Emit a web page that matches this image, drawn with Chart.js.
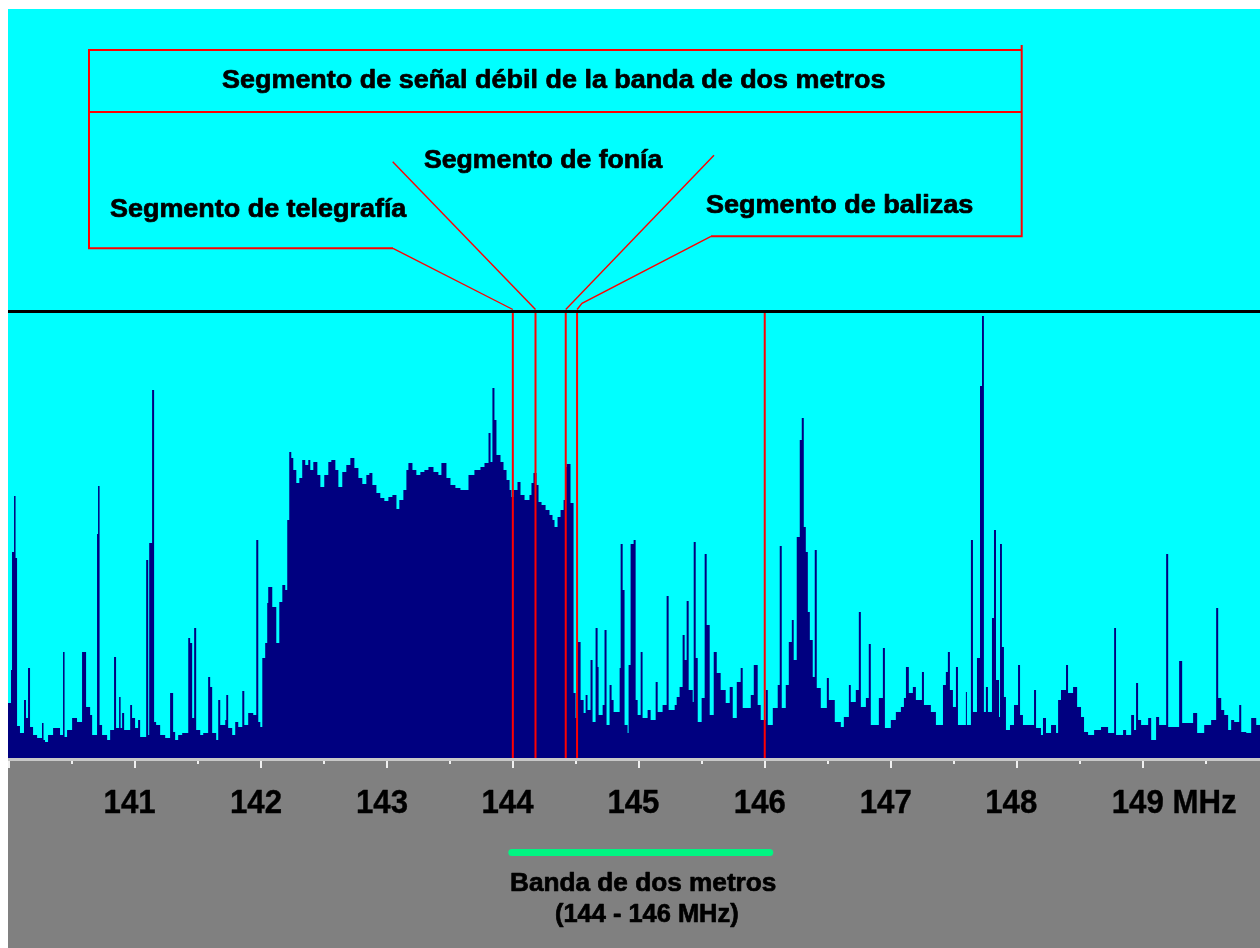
<!DOCTYPE html>
<html lang="es">
<head>
<meta charset="utf-8">
<title>Segmento de señal débil de la banda de dos metros</title>
<script src="https://cdn.jsdelivr.net/npm/chart.js@4.4.1/dist/chart.umd.min.js"></script>
<style>
  html, body { margin: 0; padding: 0; background: #ffffff; }
  #wrap { position: relative; width: 1260px; height: 948px; }
</style>
</head>
<body>
<div id="wrap"><canvas id="spectrum" width="1260" height="948"></canvas></div>
<script>
// Spectrum trace: each level holds from its frequency up to the next one (MHz, dB above the bottom of the screen)
const FREQ_MHZ = [
  139.992, 140.016, 140.024, 140.040, 140.052, 140.064, 140.087, 140.119, 140.135, 140.151,
  140.167, 140.191, 140.223, 140.262, 140.274, 140.286, 140.310, 140.350, 140.405, 140.429,
  140.441, 140.461, 140.501, 140.540, 140.580, 140.612, 140.644, 140.660, 140.699, 140.707,
  140.719, 140.739, 140.779, 140.803, 140.834, 140.850, 140.874, 140.886, 140.898, 140.914,
  140.962, 140.977, 141.001, 141.025, 141.041, 141.089, 141.105, 141.113, 141.136, 141.152,
  141.168, 141.200, 141.240, 141.279, 141.303, 141.319, 141.343, 141.375, 141.423, 141.438,
  141.454, 141.470, 141.486, 141.518, 141.542, 141.581, 141.597, 141.613, 141.645, 141.661,
  141.677, 141.717, 141.725, 141.740, 141.772, 141.796, 141.820, 141.852, 141.868, 141.899,
  141.939, 141.963, 141.979, 141.995, 142.011, 142.034, 142.050, 142.058, 142.090, 142.122,
  142.146, 142.170, 142.193, 142.209, 142.225, 142.241, 142.257, 142.281, 142.305, 142.328,
  142.352, 142.376, 142.392, 142.416, 142.448, 142.472, 142.503, 142.535, 142.559, 142.591,
  142.615, 142.646, 142.678, 142.710, 142.742, 142.774, 142.805, 142.837, 142.861, 142.885,
  142.917, 142.948, 142.980, 143.012, 143.044, 143.076, 143.099, 143.131, 143.155, 143.171,
  143.203, 143.234, 143.266, 143.298, 143.330, 143.370, 143.409, 143.433, 143.473, 143.505,
  143.544, 143.584, 143.624, 143.648, 143.695, 143.743, 143.775, 143.807, 143.823, 143.838,
  143.854, 143.870, 143.902, 143.926, 143.950, 143.974, 143.989, 144.005, 144.037, 144.061,
  144.093, 144.132, 144.148, 144.164, 144.188, 144.204, 144.228, 144.260, 144.291, 144.315,
  144.331, 144.355, 144.379, 144.403, 144.419, 144.427, 144.458, 144.482, 144.498, 144.514,
  144.538, 144.562, 144.578, 144.593, 144.617, 144.633, 144.657, 144.673, 144.681, 144.713,
  144.728, 144.744, 144.768, 144.784, 144.800, 144.848, 144.856, 144.872, 144.887, 144.911,
  144.919, 144.935, 144.959, 144.975, 144.991, 145.015, 145.030, 145.070, 145.094, 145.134,
  145.150, 145.189, 145.221, 145.237, 145.285, 145.301, 145.324, 145.348, 145.364, 145.380,
  145.396, 145.428, 145.436, 145.452, 145.468, 145.499, 145.523, 145.539, 145.563, 145.595,
  145.619, 145.650, 145.690, 145.722, 145.746, 145.778, 145.809, 145.825, 145.889, 145.913,
  145.944, 145.968, 146.008, 146.024, 146.064, 146.103, 146.119, 146.135, 146.167, 146.191,
  146.215, 146.230, 146.254, 146.278, 146.294, 146.310, 146.326, 146.342, 146.358, 146.381,
  146.397, 146.413, 146.445, 146.493, 146.509, 146.556, 146.604, 146.628, 146.668, 146.683,
  146.723, 146.747, 146.763, 146.803, 146.826, 146.842, 146.906, 146.938, 146.954, 147.001,
  147.041, 147.081, 147.105, 147.121, 147.144, 147.176, 147.200, 147.248, 147.264, 147.319,
  147.359, 147.415, 147.438, 147.454, 147.470, 147.494, 147.518, 147.534, 147.597, 147.605,
  147.637, 147.653, 147.685, 147.709, 147.725, 147.740, 147.756, 147.772, 147.804, 147.820,
  147.836, 147.860, 147.868, 147.883, 147.899, 147.915, 147.947, 147.979, 148.011, 148.027,
  148.050, 148.098, 148.138, 148.154, 148.193, 148.209, 148.233, 148.273, 148.313, 148.329,
  148.352, 148.392, 148.408, 148.448, 148.480, 148.511, 148.535, 148.567, 148.615, 148.670,
  148.726, 148.774, 148.789, 148.845, 148.869, 148.909, 148.932, 148.948, 148.964, 148.988,
  149.044, 149.068, 149.107, 149.131, 149.187, 149.203, 149.266, 149.290, 149.314, 149.401,
  149.433, 149.489, 149.544, 149.584, 149.600, 149.624, 149.648, 149.679, 149.703, 149.727,
  149.767, 149.783, 149.823, 149.862, 149.902, 149.932
];
const LEVEL_DB = [
   5.5,  8.8, 20.6, 26.2, 20.0,  3.2,  2.5,  5.8,  4.0,  9.0,
   3.1,  2.3,  2.0,  3.5,  1.8,  1.6,  2.3,  3.0,  2.3, 10.6,
   2.1,  2.8,  4.0,  3.6, 10.6,  5.1,  4.3,  2.3, 22.4, 27.2,
   3.3,  2.3,  1.8,  2.8, 10.1,  3.0,  6.1,  3.0,  4.5,  2.8,
   5.3,  4.0,  3.0,  3.8,  2.1, 19.8,  2.3, 21.5, 36.8,  3.6,
   3.3,  2.3,  2.0,  6.5,  2.6,  1.8,  2.3,  2.5, 12.0, 11.5,
   4.0, 13.0,  2.8,  2.3,  2.5,  8.1,  7.1,  2.5,  1.8,  5.8,
   3.3,  3.8,  6.3,  3.0,  2.3,  3.6,  3.1,  6.7,  3.3,  4.5,
   4.3, 21.8,  3.6,  3.1, 10.0, 11.5, 15.5, 17.1, 15.1, 11.5,
  15.6, 17.3, 16.8, 23.8, 30.6, 30.0, 28.8, 27.5, 28.0, 29.8,
  29.3, 29.8, 28.8, 29.6, 28.3, 27.1, 28.3, 29.6, 29.8, 28.8,
  27.1, 28.6, 29.3, 30.0, 29.0, 28.0, 27.4, 28.3, 28.5, 27.3,
  26.5, 26.0, 25.7, 26.1, 26.3, 24.9, 25.8, 26.8, 28.8, 29.5,
  28.8, 28.3, 28.6, 28.8, 29.1, 28.6, 28.3, 29.5, 28.0, 27.3,
  27.0, 26.8, 26.8, 28.3, 28.8, 29.1, 29.5, 32.5, 29.6, 37.0,
  33.8, 30.3, 29.6, 28.8, 27.8, 26.8, 26.1, 26.8, 27.6, 26.3,
  25.8, 26.3, 27.5, 28.5, 27.3, 25.6, 25.3, 24.8, 24.3, 23.8,
  23.1, 24.1, 24.8, 25.8, 29.1, 29.4, 25.5,  6.5,  4.0, 11.6,
   5.8,  4.5,  6.3,  4.8,  9.8,  3.6, 13.0,  9.1,  4.3,  5.3,
  12.8,  3.3,  7.3,  5.8,  4.6,  9.0, 21.4, 16.8,  3.3,  2.5,
   9.3, 21.4, 21.8,  5.8,  4.3, 10.6,  4.0,  4.8,  3.8,  7.6,
   4.6,  5.3, 16.2,  4.8,  5.3,  6.1,  7.1, 12.3,  9.8, 15.7,
   6.8,  5.6, 21.6, 10.0,  3.6,  6.0, 20.4, 13.3,  4.3, 10.6,
   8.5,  6.8,  5.5,  7.1,  4.0,  7.6,  9.0,  5.0,  6.3,  9.3,
   5.3,  3.8,  6.8,  3.3,  5.0,  7.3, 21.2,  5.0,  7.3, 11.6,
  13.8,  9.8, 22.1, 31.8, 34.0, 23.1, 20.6, 14.6, 11.8,  8.1,
  20.8,  7.0,  5.0,  8.0,  5.8,  3.6,  3.1,  4.1,  7.3,  5.6,
   6.8, 14.6,  5.1,  6.0, 11.4,  3.3,  6.0, 11.0,  3.0,  3.8,
   4.6,  5.1,  6.0,  9.1,  6.5,  7.1,  5.8,  8.6,  5.3,  4.6,
   3.3,  7.3,  8.6, 10.6,  6.8,  5.1,  9.1,  3.3,  6.6,  3.3,
  21.8,  4.6, 10.0, 37.2, 44.2,  4.6,  7.1,  4.6, 14.0, 22.8,
   7.8,  4.1, 21.4, 11.1,  6.1,  2.8,  3.3,  5.3,  9.3,  4.3,
   3.3,  3.3,  6.8,  3.0,  2.3,  4.0,  2.5,  3.3,  2.5,  5.8,
   6.8,  9.3,  6.5,  7.1,  5.1,  4.1,  2.6,  2.3,  2.8,  3.1,
   2.5, 13.0,  2.3,  2.8,  2.3,  4.3,  2.8,  7.5,  3.8,  3.3,
   4.0,  1.8,  4.1,  3.3, 20.4,  3.1,  3.1,  9.7,  3.5,  4.5,
   2.5,  3.3,  3.8, 15.0,  6.0,  4.8,  4.3,  2.8,  3.8,  3.6,
   5.3,  2.6,  2.5,  4.0,  3.3,  3.3
];

// Screen span, reference level and band-plan limits
const SPAN_MHZ = [139.992, 149.932];
const SCREEN_TOP_DB = 74.9;
const REFERENCE_LINE_DB = 44.65;
const SEGMENT_TOP_DB = 44.5;
const SEGMENT_EDGES_MHZ = [144.0, 144.18, 144.42, 144.51, 146.0];
const BAND_MHZ = [144.0, 146.0];
const AXIS_LABEL_MHZ = [141, 142, 143, 144, 145, 146, 147, 148, 149];
const AXIS_UNIT = 'MHz';

const TITLE_TEXT = 'Segmento de señal débil de la banda de dos metros';
const CW_TEXT = 'Segmento de telegrafía';
const PHONE_TEXT = 'Segmento de fonía';
const BEACON_TEXT = 'Segmento de balizas';
const BAND_TEXT = ['Banda de dos metros', '(144 - 146 MHz)'];

const COLORS = {
  screen: '#00FFFF', trace: '#000080', panel: '#808080', red: '#FF0000',
  black: '#000000', axis: '#C8C8C8', tick: '#F0F0F0', band: '#00F582', text: '#000000'
};

const FONT_FAMILY = '"Liberation Sans", Arial, Helvetica, sans-serif';

// Draws heavy bold text with its ink box starting at `left`, scaled horizontally to a width (or factor)
function drawFitted(ctx, text, o) {
  const size = o.cap / 0.716;
  ctx.font = 'bold ' + size.toFixed(2) + 'px ' + FONT_FAMILY;
  const m = ctx.measureText(text);
  const ink = m.actualBoundingBoxLeft + m.actualBoundingBoxRight;
  const sx = o.width ? o.width / ink : (o.sx || 1);
  ctx.save();
  ctx.translate(o.left, o.baseline);
  ctx.scale(sx, 1);
  ctx.fillStyle = o.color || COLORS.text;
  ctx.strokeStyle = o.color || COLORS.text;
  ctx.lineWidth = o.weight || 0.7;
  ctx.lineJoin = 'round';
  ctx.textAlign = 'left';
  ctx.textBaseline = 'alphabetic';
  ctx.fillText(text, m.actualBoundingBoxLeft, 0);
  ctx.strokeText(text, m.actualBoundingBoxLeft, 0);
  ctx.restore();
  return sx;
}

function inkWidth(ctx, text, cap) {
  ctx.font = 'bold ' + (cap / 0.716).toFixed(2) + 'px ' + FONT_FAMILY;
  const m = ctx.measureText(text);
  return m.actualBoundingBoxLeft + m.actualBoundingBoxRight;
}

function polyline(ctx, pts, width) {
  ctx.beginPath();
  ctx.moveTo(pts[0][0], pts[0][1]);
  for (let i = 1; i < pts.length; i++) ctx.lineTo(pts[i][0], pts[i][1]);
  ctx.lineWidth = width;
  ctx.stroke();
}

// Cyan screen above, grey panel below the frequency axis
const screenPlugin = {
  id: 'screen',
  beforeDraw(chart) {
    const { ctx, chartArea: a } = chart;
    ctx.save();
    ctx.fillStyle = COLORS.screen;
    ctx.fillRect(a.left, a.top, a.right - a.left, a.bottom - a.top);
    ctx.fillStyle = COLORS.panel;
    ctx.fillRect(a.left, a.bottom, a.right - a.left, chart.height - a.bottom);
    ctx.restore();
  }
};

// Frequency axis: rule, half-MHz ticks and labels
const axisPlugin = {
  id: 'freqAxis',
  afterDraw(chart) {
    const { ctx, chartArea: a } = chart;
    const xs = chart.scales.x;
    ctx.save();
    ctx.fillStyle = COLORS.axis;
    ctx.fillRect(a.left, a.bottom, a.right - a.left, 3);
    ctx.fillStyle = COLORS.tick;
    xs.ticks.forEach(t => {
      const px = Math.round(xs.getPixelForValue(t.value));
      const major = Math.abs(t.value - Math.round(t.value)) < 1e-6;
      ctx.fillRect(px - 1, a.bottom + 3, 2, major ? 7 : 3);
    });
    const cap = 23.4;
    const sx = 50 / inkWidth(ctx, '141', cap);
    const last = AXIS_LABEL_MHZ[AXIS_LABEL_MHZ.length - 1];
    AXIS_LABEL_MHZ.forEach(v => {
      const px = xs.getPixelForValue(v);
      const num = String(v);
      const w = inkWidth(ctx, num, cap) * sx;
      const text = v === last ? num + ' ' + AXIS_UNIT : num;
      drawFitted(ctx, text, { left: px - 4.5 - w / 2, baseline: a.bottom + 55, cap, sx, weight: 0.4 });
    });
    // Two-metre band bar and its caption
    const b0 = xs.getPixelForValue(BAND_MHZ[0]);
    const b1 = xs.getPixelForValue(BAND_MHZ[1]);
    ctx.strokeStyle = COLORS.band;
    ctx.lineCap = 'round';
    ctx.lineWidth = 7;
    ctx.beginPath();
    ctx.moveTo(b0 - 1, 852.5);
    ctx.lineTo(b1 + 5, 852.5);
    ctx.stroke();
    drawFitted(ctx, BAND_TEXT[0], { left: 511, baseline: 891, cap: 18.5, width: 265 });
    drawFitted(ctx, BAND_TEXT[1], { left: 556, baseline: 922, cap: 18.5, width: 182 });
    ctx.restore();
  }
};

// Callout box naming the weak-signal segments, with leaders to the segment limits
const calloutPlugin = {
  id: 'callout',
  afterDatasetsDraw(chart) {
    const { ctx } = chart;
    const xs = chart.scales.x, ys = chart.scales.y;
    const yTop = ys.getPixelForValue(REFERENCE_LINE_DB) - 2;
    const edge = SEGMENT_EDGES_MHZ.map(f => xs.getPixelForValue(f));
    ctx.save();
    ctx.strokeStyle = COLORS.red;
    ctx.lineJoin = 'miter';
    // frame
    polyline(ctx, [[393, 248.3], [89, 248.3], [89, 50], [1021.7, 50]], 2);
    polyline(ctx, [[1021.7, 45], [1021.7, 236.3], [711, 236.3]], 2);
    polyline(ctx, [[89, 112], [1021.7, 112]], 2);
    // leaders
    polyline(ctx, [[393, 248.3], [edge[0], yTop]], 1.4);
    polyline(ctx, [[392.7, 161.7], [edge[1], yTop]], 1.4);
    polyline(ctx, [[714, 155.3], [edge[2], yTop]], 1.4);
    polyline(ctx, [[711, 236.3], [582, 303.3], [edge[3], yTop]], 1.4);
    // labels
    drawFitted(ctx, TITLE_TEXT, { left: 222, baseline: 88, cap: 18.5, width: 663 });
    drawFitted(ctx, CW_TEXT, { left: 110, baseline: 217, cap: 18.5, width: 297 });
    drawFitted(ctx, PHONE_TEXT, { left: 424, baseline: 167.5, cap: 18.5, width: 239 });
    drawFitted(ctx, BEACON_TEXT, { left: 706, baseline: 212.5, cap: 18.5, width: 267 });
    ctx.restore();
  }
};

const traceData = FREQ_MHZ.slice(0, Math.min(FREQ_MHZ.length, LEVEL_DB.length))
  .map((f, i) => ({ x: f, y: LEVEL_DB[i] }));

const segmentSets = SEGMENT_EDGES_MHZ.map(f => ({
  type: 'line',
  data: [{ x: f, y: 0 }, { x: f, y: SEGMENT_TOP_DB }],
  borderColor: COLORS.red,
  borderWidth: 2,
  pointRadius: 0,
  fill: false,
  order: 0
}));

new Chart(document.getElementById('spectrum'), {
  type: 'line',
  data: {
    datasets: [
      ...segmentSets,
      {
        data: [{ x: SPAN_MHZ[0], y: REFERENCE_LINE_DB }, { x: SPAN_MHZ[1], y: REFERENCE_LINE_DB }],
        borderColor: COLORS.black,
        borderWidth: 3,
        pointRadius: 0,
        fill: false,
        order: 1
      },
      {
        data: traceData,
        stepped: true,
        borderWidth: 0,
        borderColor: COLORS.trace,
        backgroundColor: COLORS.trace,
        pointRadius: 0,
        fill: 'origin',
        order: 2
      }
    ]
  },
  options: {
    responsive: false,
    animation: false,
    devicePixelRatio: 1,
    layout: { padding: { left: 8, top: 9, right: 0, bottom: 0 } },
    plugins: { legend: { display: false }, tooltip: { enabled: false } },
    scales: {
      x: {
        type: 'linear',
        min: SPAN_MHZ[0],
        max: SPAN_MHZ[1],
        grid: { display: false },
        border: { display: false },
        ticks: { display: false, stepSize: 0.5, maxTicksLimit: 100, includeBounds: false },
        afterFit: s => { s.height = 190; }
      },
      y: {
        display: false,
        min: 0,
        max: SCREEN_TOP_DB
      }
    }
  },
  plugins: [screenPlugin, axisPlugin, calloutPlugin]
});
</script>
</body>
</html>
